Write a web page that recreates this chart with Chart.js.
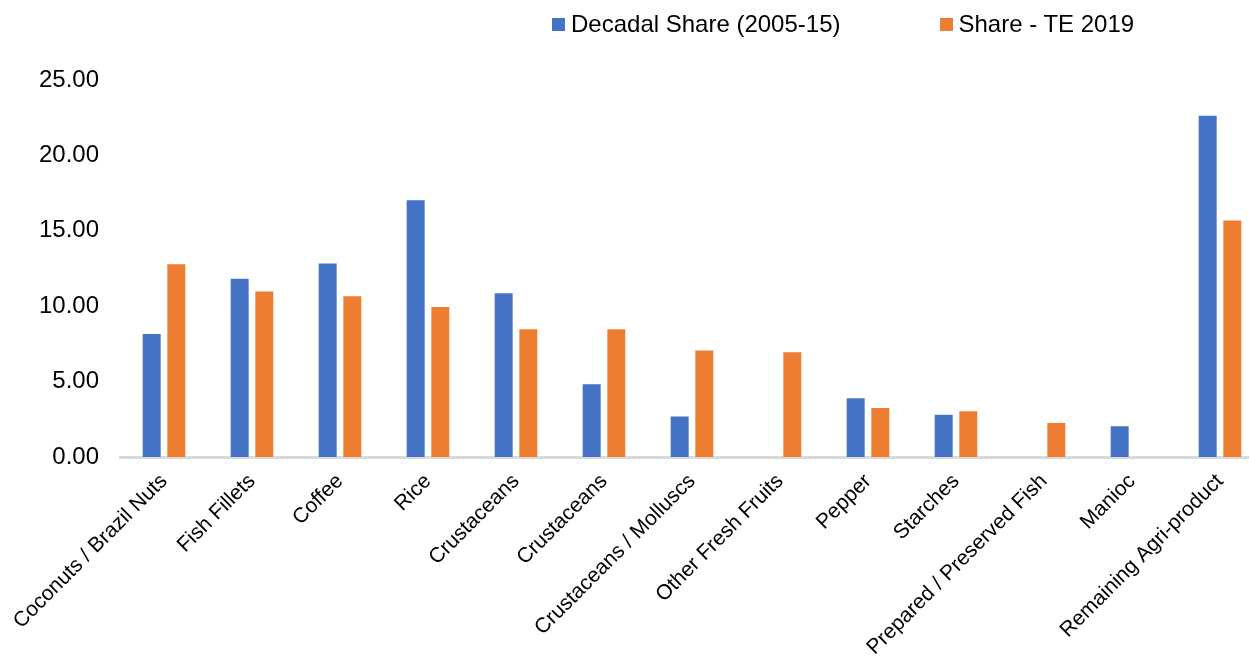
<!DOCTYPE html>
<html>
<head>
<meta charset="utf-8">
<script src="https://cdn.jsdelivr.net/npm/chart.js@4/dist/chart.umd.min.js"></script>
<style>
    html, body { margin: 0; padding: 0; background: #fff; }
    #wrap { position: relative; width: 1249px; height: 656px; overflow: hidden; }
    #shareChart { position: absolute; left: 0; top: 0; }
    #legend {
        position: absolute; left: 552px; top: 10px;
        display: flex; align-items: center;
        font-family: Arial, "Liberation Sans", sans-serif; font-size: 24px; line-height: 28px; color: #000;
    }
    .legend-item { display: flex; align-items: center; }
    .legend-item + .legend-item { margin-left: 99px; }
    .legend-box { width: 13px; height: 13px; margin-right: 6px; }
</style>
</head>
<body>
<div id="wrap">
    <canvas id="shareChart" width="1264" height="656"></canvas>
    <div id="legend"></div>
</div>
<script>
const categories = [
    'Coconuts / Brazil Nuts', 'Fish Fillets', 'Coffee', 'Rice', 'Crustaceans', 'Crustaceans',
    'Crustaceans / Molluscs', 'Other Fresh Fruits', 'Pepper', 'Starches',
    'Prepared / Preserved Fish', 'Manioc', 'Remaining Agri-product'
];
const decadalShare = [8.22, 11.88, 12.90, 17.10, 10.93, 4.89, 2.76, null, 3.96, 2.87, null, 2.10, 22.69];
const shareTE2019 = [12.84, 11.04, 10.73, 10.02, 8.53, 8.53, 7.13, 7.02, 3.32, 3.10, 2.32, null, 15.75];
const seriesNames = ['Decadal Share (2005-15)', 'Share - TE 2019'];
const seriesColors = ['#4472C4', '#ED7D31'];
const yTicks = [0, 5, 10, 15, 20, 25];

const fontFamily = 'Arial, "Liberation Sans", sans-serif';

function buildLegend() {
    const legendEl = document.getElementById('legend');
    seriesNames.forEach((name, i) => {
        const item = document.createElement('div');
        item.className = 'legend-item';
        item.innerHTML = `<span class="legend-box" style="background:${seriesColors[i]}"></span><span>${name}</span>`;
        legendEl.appendChild(item);
    });
}

const ctx = document.getElementById('shareChart').getContext('2d');
const shareChart = new Chart(ctx, {
    type: 'bar',
    data: {
        labels: categories,
        datasets: [decadalShare, shareTE2019].map((values, i) => ({
            label: seriesNames[i],
            data: values,
            backgroundColor: seriesColors[i],
            borderColor: 'rgba(255, 255, 255, 0.45)',
            borderWidth: 1,
            categoryPercentage: 0.56,
            barPercentage: 0.81
        }))
    },
    options: {
        responsive: false,
        animation: false,
        layout: { padding: { top: 80, left: 0, right: 0, bottom: 0 } },
        scales: {
            x: {
                grid: { display: false, drawTicks: false },
                border: { display: true, color: '#d9d9d9', width: 3 },
                ticks: {
                    color: '#000',
                    font: { family: fontFamily, size: 21 },
                    minRotation: 45,
                    maxRotation: 45,
                    autoSkip: false,
                    padding: 12
                },
                // rotated labels run off the left edge; keep the plot area where it is
                afterFit: scale => {
                    scale.height = 199;
                    scale.paddingLeft = 0;
                    scale.paddingRight = 0;
                }
            },
            y: {
                min: 0,
                max: yTicks[yTicks.length - 1],
                afterBuildTicks: scale => { scale.ticks = yTicks.map(v => ({ value: v })); },
                grid: { display: false, drawTicks: false },
                border: { display: false },
                ticks: {
                    color: '#000',
                    font: { family: fontFamily, size: 24 },
                    padding: 21,
                    callback: value => value.toFixed(2)
                },
                afterFit: scale => { scale.width = 120; }
            }
        },
        plugins: {
            legend: { display: false },
            tooltip: { enabled: false }
        }
    }
});

buildLegend();
</script>
</body>
</html>
